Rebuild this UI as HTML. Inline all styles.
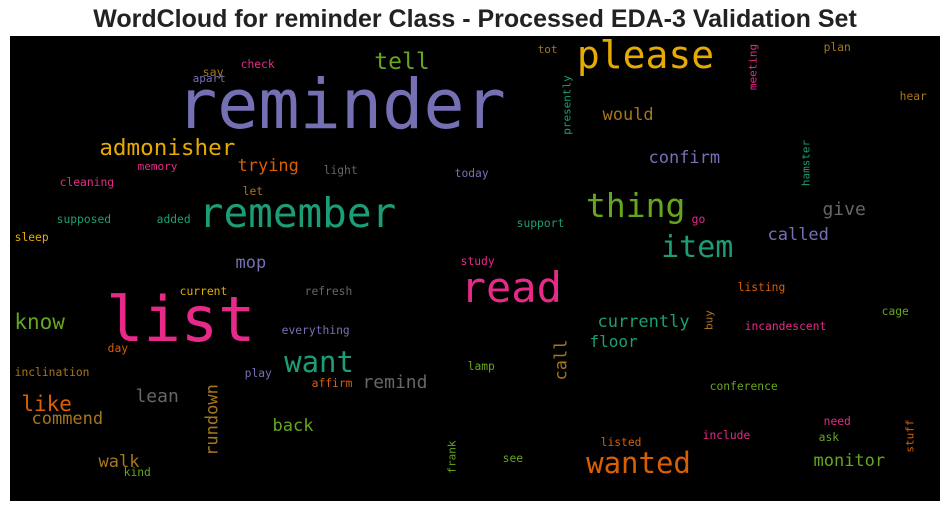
<!DOCTYPE html>
<html>
<head>
<meta charset="utf-8">
<style>
  html,body{margin:0;padding:0;background:#fff;width:950px;height:511px;overflow:hidden;}
  #title{position:absolute;left:0;top:5px;width:950px;text-align:center;font-family:"Liberation Sans",Arial,sans-serif;font-weight:bold;font-size:25px;color:#222;}
  #cloud{position:absolute;left:10px;top:36px;width:930px;height:465px;background:#000;overflow:hidden;}
  .w{position:absolute;font-family:"DejaVu Sans Mono","Liberation Mono",monospace;line-height:1;white-space:nowrap;}
</style>
</head>
<body>
<div id="title">WordCloud for reminder Class - Processed EDA-3 Validation Set</div>
<div id="cloud"></div>
<script>
const T='#1b9e77',O='#d95f02',P='#7570b3',K='#e7298a',G='#66a61e',Y='#e6ab02',B='#a6761d',R='#666666';
// word, x-left (or center x if vertical), center y, font size, color, vertical
const words=[
['reminder',178,105,68.5,P,0],['please',578,55,38,Y,0],['list',108,320,62,K,0],
['remember',200,213,41,T,0],['read',462,288,42,K,0],['thing',587,205,33,G,0],
['item',662,248,30,T,0],['wanted',587,463,29,O,0],['want',285,362,29,T,0],
['tell',375,62,23,G,0],['admonisher',100,148,22.6,Y,0],['trying',238,166,17,O,0],
['confirm',649,158,17,P,0],['would',603,115,17,B,0],['give',823,210,18,R,0],
['called',768,235,17,P,0],['mop',236,263,17,P,0],['know',15,322,21,G,0],
['currently',598,322,17,T,0],['floor',590,342,16,T,0],['remind',363,383,18,R,0],
['lean',136,397,18,R,0],['like',22,404,21,O,0],['commend',32,419,17,B,0],
['back',273,426,17,G,0],['walk',99,462,17,B,0],['monitor',814,461,17,G,0],
['rundown',213,420,17,B,1],['call',562,360,17,B,1],
['say',203,73,11.6,B,0],['check',241,65,11.3,K,0],['apart',193,78,11,P,0],
['plan',824,48,11.3,B,0],['tot',538,49,11,B,0],['meeting',753,67,11,K,1],
['presently',567,105,11,T,1],['hear',900,97,11.3,B,0],['memory',138,166,11,K,0],
['cleaning',60,183,11.3,K,0],['light',324,171,11.3,R,0],['today',455,174,11.3,P,0],
['let',243,192,11.3,B,0],['supposed',57,220,11.3,T,0],['added',157,220,11.3,T,0],
['sleep',15,238,11.3,Y,0],['support',517,224,11.3,T,0],['go',692,220,11.3,K,0],
['hamster',806,163,11,T,1],['study',461,262,11.3,K,0],['current',180,292,11.3,Y,0],
['refresh',305,292,11.3,R,0],['listing',738,288,11.3,O,0],['buy',709,320,11,B,1],
['incandescent',745,327,11.3,K,0],['cage',882,312,11.3,G,0],['everything',282,331,11.3,P,0],
['day',108,349,11.3,O,0],['inclination',15,373,11.3,B,0],['play',245,374,11.3,P,0],
['affirm',312,384,11.3,O,0],['lamp',468,367,11.3,G,0],['conference',710,387,11.3,G,0],
['need',824,422,11.3,K,0],['include',703,436,11.3,K,0],['ask',819,438,11.3,G,0],
['stuff',910,436,11,O,1],['listed',601,443,11.3,O,0],['frank',452,457,11,G,1],
['see',503,459,11.3,G,0],['kind',124,473,11.3,G,0]
];
const cloud=document.getElementById('cloud');
for(const [t,x,y,fs,c,v] of words){
  const el=document.createElement('div');
  el.className='w';
  el.textContent=t;
  el.style.fontSize=fs+'px';
  el.style.color=c;
  if(v){
    el.style.left=(x-10)+'px';
    el.style.top=(y-36)+'px';
    el.style.transform='translate(-50%,-50%) rotate(-90deg)';
  }else{
    el.style.left=(x-10-fs*0.03)+'px';
    el.style.top=(y-36-fs*0.5)+'px';
  }
  
  
  cloud.appendChild(el);
}
</script>
</body>
</html>
